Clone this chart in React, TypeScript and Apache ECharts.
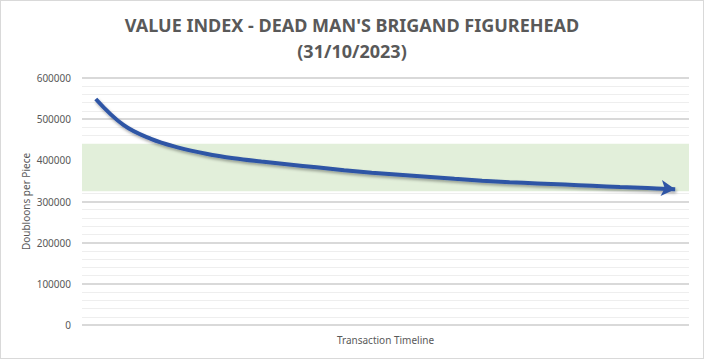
import React, { useEffect, useRef } from "react";
import * as echarts from "echarts";

const titleLines = ["VALUE INDEX - DEAD MAN'S BRIGAND FIGUREHEAD", "(31/10/2023)"];
const yAxisName = "Doubloons per Piece";
const xAxisName = "Transaction Timeline";
const steps = Array.from({ length: 22 }, (_, i) => `T${i + 1}`);
const values = [
  549000, 486000, 452000, 431000, 416000, 405000, 397000, 390000, 383000, 376000, 370000,
  365000, 360000, 355000, 350500, 347000, 344000, 341000, 338000, 335000, 332500, 330000,
];
const bandRange = [325000, 440000];

export default function App() {
  const ref = useRef<HTMLDivElement>(null);
  useEffect(() => {
    if (!ref.current) return;
    const chart = echarts.init(ref.current, null, { renderer: "svg" });
    const font = "'Noto Sans', sans-serif";
    const data = values.map((v, i) =>
      i === values.length - 1
        ? { value: v, symbol: "arrow", symbolSize: [12, 14], symbolRotate: -95, itemStyle: { color: "#2F55A5" } }
        : { value: v, symbol: "none" }
    );
    chart.setOption({
      animation: false,
      backgroundColor: "#ffffff",
      title: {
        text: titleLines.join("\n"),
        left: "center",
        top: 6,
        textStyle: {
          fontFamily: font,
          fontSize: 18,
          fontWeight: "bold",
          color: "#595959",
          lineHeight: 26,
        },
      },
      grid: { left: 81, top: 77, width: 607, height: 247 },
      xAxis: {
        type: "category",
        data: steps,
        boundaryGap: true,
        name: xAxisName,
        nameLocation: "middle",
        nameGap: 10,
        nameTextStyle: { fontFamily: font, fontSize: 10, color: "#595959" },
        axisLine: { show: false },
        axisTick: { show: false },
        axisLabel: { show: false },
        splitLine: { show: false },
      },
      yAxis: {
        type: "value",
        min: 0,
        max: 600000,
        interval: 100000,
        name: yAxisName,
        nameLocation: "middle",
        nameGap: 51,
        nameMoveOverlap: false,
        nameTextStyle: { fontFamily: font, fontSize: 10, color: "#595959" },
        axisLine: { show: false },
        axisTick: { show: false },
        axisLabel: {
          fontFamily: font,
          fontSize: 10,
          color: "#595959",
          margin: 11,
          formatter: (v: number) => String(v),
        },
        splitLine: { show: true, lineStyle: { color: "#D9D9D9", width: 2 } },
        minorTick: { show: false, splitNumber: 5 },
        minorSplitLine: { show: true, lineStyle: { color: "#EEEEEE", width: 1 } },
      },
      series: [
        {
          type: "line",
          data,
          smooth: 0.4,
          showSymbol: true,
          lineStyle: {
            color: "#2F55A5",
            width: 4,
            shadowColor: "rgba(0,0,0,0.35)",
            shadowBlur: 3,
            shadowOffsetY: 2,
            shadowOffsetX: 1,
          },
          itemStyle: { color: "#2F55A5" },
          markArea: {
            silent: true,
            itemStyle: { color: "#E2EFDA" },
            data: [[{ yAxis: bandRange[0] }, { yAxis: bandRange[1] }]],
          },
          z: 3,
        },
      ],
    });
    return () => chart.dispose();
  }, []);
  return (
    <div
      ref={ref}
      style={{
        position: "absolute",
        left: 0,
        top: 0,
        width: 704,
        height: 359,
        boxSizing: "border-box",
        border: "1px solid #D9D9D9",
      }}
    />
  );
}
